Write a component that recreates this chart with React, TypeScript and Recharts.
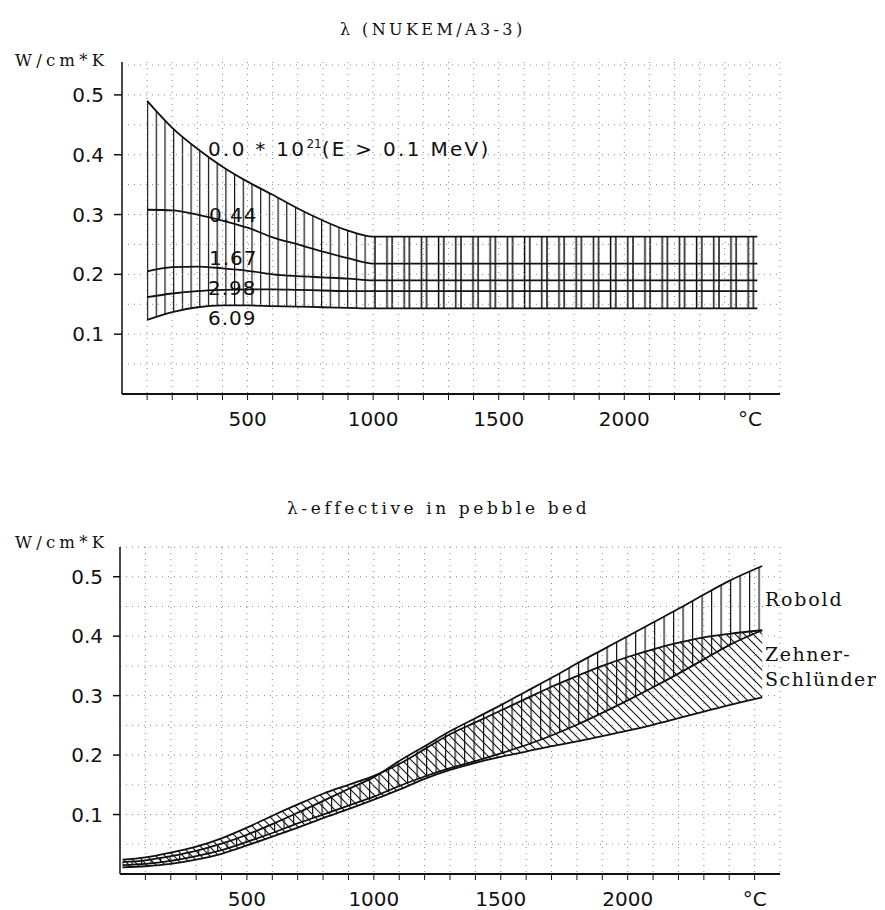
import React from 'react';
import { ComposedChart, Line, Area, XAxis, YAxis, CartesianGrid, ReferenceLine } from 'recharts';

// ---------- Top chart: λ (NUKEM/A3-3) ----------
const TOP_T = [100, 200, 300, 400, 500, 600, 700, 800, 900, 1000, 2530];
const TOP_00 = [0.49, 0.445, 0.41, 0.38, 0.355, 0.333, 0.31, 0.29, 0.273, 0.263, 0.263];
const TOP_044 = [0.308, 0.307, 0.3, 0.29, 0.278, 0.262, 0.25, 0.238, 0.227, 0.218, 0.218];
const TOP_167 = [0.205, 0.212, 0.213, 0.21, 0.206, 0.2, 0.197, 0.195, 0.193, 0.19, 0.19];
const TOP_298 = [0.162, 0.168, 0.172, 0.174, 0.175, 0.175, 0.174, 0.173, 0.172, 0.172, 0.172];
const TOP_609 = [0.124, 0.137, 0.145, 0.148, 0.148, 0.147, 0.146, 0.145, 0.144, 0.143, 0.143];
const RECT_START = 1000;

// ---------- Bottom chart: λ-effective in pebble bed ----------
const BOT_T = [10, 100, 200, 300, 400, 500, 600, 700, 800, 900, 1000, 1100, 1200, 1300, 1400, 1500, 1600, 1700, 1800, 1900, 2000, 2100, 2200, 2300, 2400, 2530];
const ROBOLD_HI = [0.02, 0.023, 0.03, 0.039, 0.051, 0.066, 0.084, 0.103, 0.123, 0.143, 0.163, 0.19, 0.215, 0.24, 0.262, 0.284, 0.307, 0.33, 0.354, 0.377, 0.4, 0.423, 0.446, 0.47, 0.493, 0.518];
const ROBOLD_LO = [0.015, 0.017, 0.022, 0.03, 0.04, 0.054, 0.069, 0.085, 0.1, 0.115, 0.13, 0.148, 0.164, 0.178, 0.19, 0.203, 0.217, 0.233, 0.251, 0.271, 0.292, 0.314, 0.337, 0.361, 0.385, 0.41];
const ZS_HI = [0.024, 0.028, 0.036, 0.046, 0.06, 0.078, 0.098, 0.117, 0.135, 0.15, 0.165, 0.185, 0.21, 0.235, 0.255, 0.275, 0.295, 0.315, 0.333, 0.35, 0.365, 0.378, 0.389, 0.398, 0.404, 0.41];
const ZS_LO = [0.011, 0.013, 0.017, 0.024, 0.034, 0.048, 0.063, 0.078, 0.094, 0.109, 0.125, 0.142, 0.16, 0.175, 0.187, 0.197, 0.206, 0.215, 0.223, 0.232, 0.241, 0.251, 0.262, 0.273, 0.284, 0.297];

// ---------- Axes ----------
const X_TICKS = [100, 200, 300, 400, 500, 600, 700, 800, 900, 1000, 1100, 1200, 1300, 1400, 1500, 1600, 1700, 1800, 1900, 2000, 2100, 2200, 2300, 2400, 2500];
const X_LABELS: Record<number, string> = { 500: '500', 1000: '1000', 1500: '1500', 2000: '2000', 2500: '°C' };
const Y_TICKS = [0.1, 0.2, 0.3, 0.4, 0.5];
const Y_GRID = [0.05, 0.1, 0.15, 0.2, 0.25, 0.3, 0.35, 0.4, 0.45, 0.5, 0.55];

const NUM_FONT = '"DejaVu Sans", sans-serif';
const SERIF_FONT = '"DejaVu Serif", serif';
const INK = '#111';
const GRID = '#8a8a8a';

const tickStyle = { fontFamily: NUM_FONT, fontSize: 20, fill: INK };

const txt = (extra: React.CSSProperties): React.CSSProperties => ({
  position: 'absolute',
  lineHeight: 1,
  whiteSpace: 'nowrap',
  color: INK,
  ...extra,
});

export default function App() {
  const topData = TOP_T.map((t, i) => ({
    t,
    c0: TOP_00[i],
    c1: TOP_044[i],
    c2: TOP_167[i],
    c3: TOP_298[i],
    c4: TOP_609[i],
    bandL: t <= RECT_START ? [TOP_609[i], TOP_00[i]] : undefined,
    bandR: t >= RECT_START ? [TOP_609[i], TOP_00[i]] : undefined,
  }));

  const botData = BOT_T.map((t, i) => ({
    t,
    rh: ROBOLD_HI[i],
    rl: ROBOLD_LO[i],
    zh: ZS_HI[i],
    zl: ZS_LO[i],
    rob: [ROBOLD_LO[i], ROBOLD_HI[i]],
    zs: [ZS_LO[i], ZS_HI[i]],
  }));

  const lineProps = { type: 'monotone' as const, stroke: INK, strokeWidth: 1.8, dot: false, isAnimationActive: false, activeDot: false };

  return (
    <div style={{ position: 'relative', width: 869, height: 902, background: '#fff' }}>
      {/* ===== TOP CHART ===== */}
      <ComposedChart width={869} height={430} data={topData} margin={{ top: 54, right: 97, bottom: 14, left: 54 }}>
        <defs>
          <pattern id="vHatchTop" patternUnits="userSpaceOnUse" x={139} y={0} width={8.7} height={10}>
            <line x1={0.6} y1={0} x2={0.6} y2={10} stroke={INK} strokeWidth={1.2} />
          </pattern>
          <pattern id="rectHatch" patternUnits="userSpaceOnUse" x={366} y={0} width={17.2} height={10}>
            <line x1={1} y1={0} x2={1} y2={10} stroke={INK} strokeWidth={1.5} />
            <line x1={13} y1={0} x2={13} y2={10} stroke={INK} strokeWidth={1.5} />
          </pattern>
        </defs>
        <CartesianGrid horizontal={false} stroke={GRID} strokeDasharray="1 5" />
        {Y_GRID.map((v) => (
          <ReferenceLine key={v} y={v} stroke={GRID} strokeDasharray="1 5" />
        ))}
        <XAxis
          type="number"
          dataKey="t"
          domain={[0, 2620]}
          ticks={X_TICKS}
          interval={0}
          tickFormatter={(v: number) => X_LABELS[v] ?? ''}
          height={30}
          tickSize={6}
          tickMargin={12}
          axisLine={{ stroke: INK, strokeWidth: 2 }}
          tickLine={{ stroke: INK, strokeWidth: 1 }}
          tick={tickStyle}
        />
        <YAxis
          type="number"
          domain={[0, 0.555]}
          ticks={Y_TICKS}
          interval={0}
          width={60}
          tickSize={8}
          tickMargin={10}
          axisLine={{ stroke: INK, strokeWidth: 1.5 }}
          tickLine={{ stroke: INK, strokeWidth: 1.5 }}
          tick={tickStyle}
          tickFormatter={(v: number) => v.toFixed(1)}
        />
        <Area dataKey="bandL" type="monotone" fill="url(#vHatchTop)" fillOpacity={1} stroke="none" isAnimationActive={false} connectNulls={false} activeDot={false} />
        <Area dataKey="bandR" type="linear" fill="url(#rectHatch)" fillOpacity={1} stroke="none" isAnimationActive={false} connectNulls={false} activeDot={false} />
        <Line dataKey="c0" {...lineProps} />
        <Line dataKey="c1" {...lineProps} />
        <Line dataKey="c2" {...lineProps} />
        <Line dataKey="c3" {...lineProps} />
        <Line dataKey="c4" {...lineProps} />
      </ComposedChart>

      {/* ===== BOTTOM CHART ===== */}
      <ComposedChart width={869} height={472} data={botData} margin={{ top: 109, right: 97, bottom: 6, left: 52 }}>
        <defs>
          <pattern id="vHatchBot" patternUnits="userSpaceOnUse" x={0} y={0} width={9.5} height={10}>
            <line x1={0.6} y1={0} x2={0.6} y2={10} stroke={INK} strokeWidth={1.2} />
          </pattern>
          <pattern id="dHatch" patternUnits="userSpaceOnUse" x={0} y={0} width={9} height={9}>
            <line x1={0} y1={0} x2={9} y2={9} stroke={INK} strokeWidth={1.1} />
            <line x1={-1} y1={8} x2={1} y2={10} stroke={INK} strokeWidth={1.1} />
            <line x1={8} y1={-1} x2={10} y2={1} stroke={INK} strokeWidth={1.1} />
          </pattern>
        </defs>
        <CartesianGrid horizontal={false} stroke={GRID} strokeDasharray="1 5" />
        {Y_GRID.map((v) => (
          <ReferenceLine key={v} y={v} stroke={GRID} strokeDasharray="1 5" />
        ))}
        <XAxis
          type="number"
          dataKey="t"
          domain={[0, 2600]}
          ticks={X_TICKS}
          interval={0}
          tickFormatter={(v: number) => X_LABELS[v] ?? ''}
          height={30}
          tickSize={6}
          tickMargin={12}
          axisLine={{ stroke: INK, strokeWidth: 2 }}
          tickLine={{ stroke: INK, strokeWidth: 1 }}
          tick={tickStyle}
        />
        <YAxis
          type="number"
          domain={[0, 0.55]}
          ticks={Y_TICKS}
          interval={0}
          width={60}
          tickSize={7}
          tickMargin={10}
          axisLine={{ stroke: INK, strokeWidth: 1.5 }}
          tickLine={{ stroke: INK, strokeWidth: 1.5 }}
          tick={tickStyle}
          tickFormatter={(v: number) => v.toFixed(1)}
        />
        <Area dataKey="rob" type="monotone" fill="url(#vHatchBot)" fillOpacity={1} stroke="none" isAnimationActive={false} activeDot={false} />
        <Area dataKey="zs" type="monotone" fill="url(#dHatch)" fillOpacity={1} stroke="none" isAnimationActive={false} activeDot={false} />
        <Line dataKey="rh" {...lineProps} />
        <Line dataKey="rl" {...lineProps} />
        <Line dataKey="zh" {...lineProps} />
        <Line dataKey="zl" {...lineProps} />
      </ComposedChart>

      {/* ===== Text overlays (top) ===== */}
      <div style={txt({ left: 332, top: 14, fontFamily: SERIF_FONT, fontSize: 16, letterSpacing: 3.4 })}>λ (NUKEM/A3-3)</div>
      <div style={txt({ left: 7, top: 45, fontFamily: SERIF_FONT, fontSize: 16.5, letterSpacing: 4.2 })}>W/cm*K</div>
      <div style={txt({ left: 200, top: 130, fontFamily: NUM_FONT, fontSize: 20, letterSpacing: 2.3 })}>
        0.0 * 10<sup style={{ fontSize: 12, verticalAlign: 8, letterSpacing: 0 }}>21</sup>(E &gt; 0.1 MeV)
      </div>
      <div style={txt({ left: 201, top: 197, fontFamily: NUM_FONT, fontSize: 20, letterSpacing: 1 })}>0.44</div>
      <div style={txt({ left: 201, top: 240, fontFamily: NUM_FONT, fontSize: 20, letterSpacing: 1 })}>1.67</div>
      <div style={txt({ left: 200, top: 270, fontFamily: NUM_FONT, fontSize: 20, letterSpacing: 1 })}>2.98</div>
      <div style={txt({ left: 200, top: 300, fontFamily: NUM_FONT, fontSize: 20, letterSpacing: 1 })}>6.09</div>

      {/* ===== Text overlays (bottom) ===== */}
      <div style={txt({ left: 279, top: 492, fontFamily: SERIF_FONT, fontSize: 17, letterSpacing: 3.6 })}>λ-effective in pebble bed</div>
      <div style={txt({ left: 7, top: 527, fontFamily: SERIF_FONT, fontSize: 16.5, letterSpacing: 4.2 })}>W/cm*K</div>
      <div style={txt({ left: 757, top: 582, fontFamily: SERIF_FONT, fontSize: 19, letterSpacing: 1.8 })}>Robold</div>
      <div style={txt({ left: 757, top: 637, fontFamily: SERIF_FONT, fontSize: 19, letterSpacing: 1.5 })}>Zehner-</div>
      <div style={txt({ left: 757, top: 662, fontFamily: SERIF_FONT, fontSize: 19, letterSpacing: 1.5 })}>Schlünder</div>
    </div>
  );
}
